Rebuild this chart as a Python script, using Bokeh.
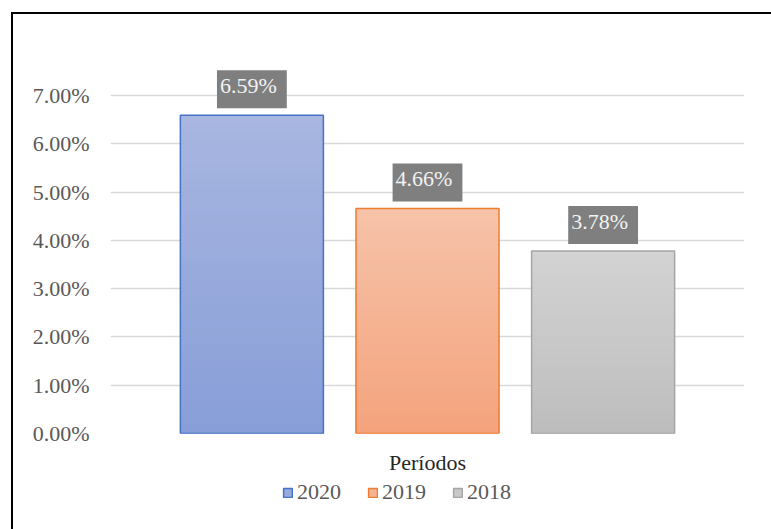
from bokeh.plotting import figure
from bokeh.layouts import column
from bokeh.models import (FactorRange, Range1d, FixedTicker, NumeralTickFormatter,
                          Legend, LegendItem, ColumnDataSource)
from bokeh.transform import dodge
from bokeh.core.properties import value
from bokeh.embed import file_html
from bokeh.resources import INLINE

# ---- data ----
category = "Períodos"
years = ["2020", "2019", "2018"]
values = [0.0659, 0.0466, 0.0378]
labels = ["6.59%", "4.66%", "3.78%"]
yticks = [0.0, 0.01, 0.02, 0.03, 0.04, 0.05, 0.06, 0.07]

# ---- styles ----
offsets = [-0.277, 0.0, 0.277]
bar_width = 0.2256
border_colors = ["#4472C4", "#ED7D31", "#A5A5A5"]
top_colors = ["#A8B6E0", "#F6C3AA", "#D3D3D3"]
bottom_colors = ["#889ED8", "#F4A37C", "#BDBDBD"]
mid_colors = ["#98AADC", "#F5B393", "#C8C8C8"]
FONT = "Liberation Serif"


def hex2rgb(h):
    h = h.lstrip("#")
    return tuple(int(h[i:i + 2], 16) for i in (0, 2, 4))


def lerp(c1, c2, t):
    a, b = hex2rgb(c1), hex2rgb(c2)
    return "#%02x%02x%02x" % tuple(round(a[i] + (b[i] - a[i]) * t) for i in range(3))


p = figure(x_range=FactorRange(factors=[category]), y_range=Range1d(0, 0.07642),
           frame_width=634, frame_height=369, output_backend="svg", toolbar_location=None,
           min_border_left=97, min_border_right=27, min_border_top=50, min_border_bottom=40)
p.outline_line_color = None
p.background_fill_color = "white"
p.border_fill_color = "white"

# axes
p.yaxis.ticker = FixedTicker(ticks=yticks)
p.yaxis.formatter = NumeralTickFormatter(format="0.00%")
p.yaxis.axis_line_color = None
p.yaxis.major_tick_line_color = None
p.yaxis.minor_tick_line_color = None
p.yaxis.major_label_standoff = 15
p.yaxis.major_label_text_font = FONT
p.yaxis.major_label_text_font_size = "22px"
p.yaxis.major_label_text_color = "#595959"

p.xaxis.axis_line_color = None
p.xaxis.major_tick_line_color = None
p.xaxis.minor_tick_line_color = None
p.xaxis.major_label_standoff = 10
p.xaxis.major_label_text_font = FONT
p.xaxis.major_label_text_font_size = "22px"
p.xaxis.major_label_text_color = "#262626"

p.xgrid.grid_line_color = None
p.ygrid.grid_line_color = "#D9D9D9"
p.ygrid.grid_line_width = 1.5

n = 40
for i in range(3):
    xs = dodge("x", offsets[i], range=p.x_range)
    src = ColumnDataSource(dict(x=[category], top=[values[i]], label=[labels[i]]))
    # vertical gradient: overlapping layers, tallest (lightest) first
    ks = list(range(n - 1, -1, -1))
    strips = ColumnDataSource(dict(
        x=[category] * n,
        top=[values[i] * (k + 1) / n for k in ks],
        color=[lerp(bottom_colors[i], top_colors[i], (k + 0.5) / n) for k in ks],
    ))
    p.vbar(x=xs, top="top", bottom=0, width=bar_width, source=strips,
           fill_color="color", line_color=None)
    p.vbar(x=xs, top="top", bottom=0, width=bar_width, source=src,
           fill_color=None, line_color=border_colors[i], line_width=1.5)
    p.text(x=xs, y="top", text="label", source=src,
           text_font=value(FONT), text_font_size="22px", text_color="#F2F2F2",
           text_align="center", text_baseline="bottom", y_offset=-7,
           background_fill_color="#7F7F7F", padding=(3, 10, 3, 10))

# ---- legend strip below the chart ----
p2 = figure(x_range=Range1d(0, 1), y_range=Range1d(0, 1), width=758, height=56,
            output_backend="svg", toolbar_location=None,
            min_border_left=0, min_border_right=0, min_border_top=0, min_border_bottom=0)
p2.axis.visible = False
p2.grid.visible = False
p2.outline_line_color = None
p2.border_fill_color = "white"

legend_items = []
for i in range(3):
    # swatch renderer, its single bar lies outside the visible range
    r = p2.vbar(x=[-5], top=[-5], bottom=[-6], width=0.1, fill_color=mid_colors[i],
                line_color=border_colors[i], line_width=1.5)
    legend_items.append(LegendItem(label=years[i], renderers=[r]))

legend = Legend(items=legend_items, orientation="horizontal", location=(172, 28),
                glyph_width=11, glyph_height=11, label_standoff=4, spacing=26,
                padding=0, margin=0, border_line_color=None, background_fill_alpha=0,
                label_text_font=FONT, label_text_font_size="22px",
                label_text_color="#595959")
p2.add_layout(legend, "center")

layout = column(p, p2, spacing=0, margin=(12, 0, 0, 11),
                styles={"border-left": "2px solid black", "border-top": "2px solid black"})

open("out.html", "w").write(file_html(layout, INLINE))
